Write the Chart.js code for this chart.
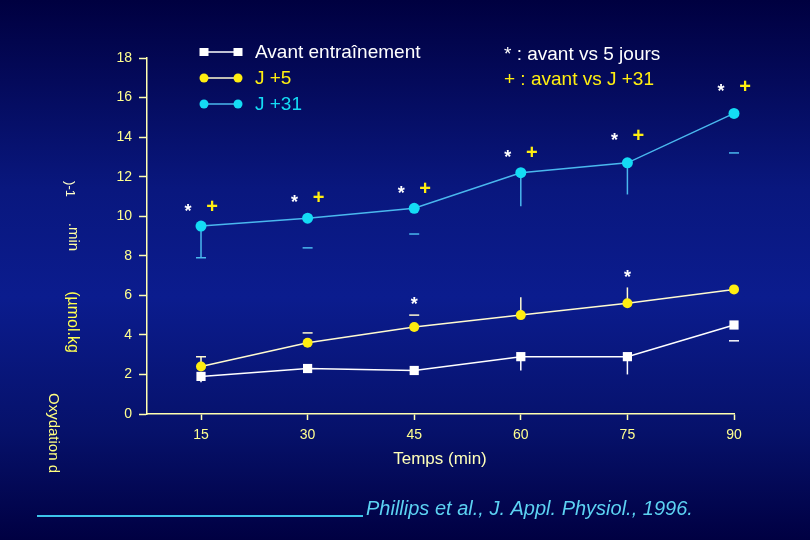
<!DOCTYPE html>
<html>
<head>
<meta charset="utf-8">
<script src="https://cdn.jsdelivr.net/npm/chart.js"></script>
<style>
  html, body { margin: 0; padding: 0; background: #000040; }
</style>
</head>
<body>
<canvas id="chart" width="810" height="540"></canvas>

<script type="text/javascript">
    // values
    const minutes = [15, 30, 45, 60, 75, 90];
    const avant = [1.9, 2.3, 2.2, 2.9, 2.9, 4.5];
    const j5 = [2.4, 3.6, 4.4, 5.0, 5.6, 6.3];
    const j31 = [9.5, 9.9, 10.4, 12.2, 12.7, 15.2];

    // end of each error bar (null = not shown)
    const avantErr = [1.6, null, null, 2.2, 2.0, 3.7];
    const j5Err = [2.9, 4.1, 5.0, 5.9, 6.4, null];
    const j31Err = [7.9, 8.4, 9.1, 10.5, 11.1, 13.2];
    // T = stem and cap, I = stem only, - = cap only
    const avantErrKind = ['I', '', '', 'I', 'I', '-'];
    const j5ErrKind = ['T', '-', '-', 'I', 'I', ''];
    const j31ErrKind = ['T', '-', '-', 'I', 'I', '-'];

    // height of the "* +" marks over J +31, and of the "*" marks over J +5
    const sigJ31 = [10.5, 10.95, 11.45, 13.25, 14.1, 16.6];
    const sigJ5 = [null, null, 5.8, null, 7.2, null];

    const yTicks = [0, 2, 4, 6, 8, 10, 12, 14, 16, 18];

    const AXIS = '#ffffb0';
    const TICKTXT = '#ffff90';
    const WHITE = '#ffffff';
    const YELLOW = '#ffee10';
    const YLINE = '#fffbd0';
    const CYAN = '#14dcf4';
    const CLINE = '#4ab8ee';
    const FONT = '"Liberation Sans", Arial, sans-serif';

    const ctx = document.getElementById("chart").getContext("2d");

    function pts(values) {
      return minutes.map((m, i) => ({ x: m, y: values[i] }));
    }

    const background = {
      id: 'background',
      beforeDraw(chart) {
        const c = chart.ctx;
        const g = c.createLinearGradient(0, 0, 0, chart.height);
        g.addColorStop(0, '#000040');
        g.addColorStop(0.35, '#09177e');
        g.addColorStop(0.55, '#0b1c8e');
        g.addColorStop(0.8, '#06116a');
        g.addColorStop(1, '#000042');
        c.save();
        c.fillStyle = g;
        c.fillRect(0, 0, chart.width, chart.height);
        c.restore();
      }
    };

    const errorBars = {
      id: 'errorBars',
      beforeDatasetsDraw(chart) {
        const c = chart.ctx;
        const xs = chart.scales.x, ys = chart.scales.y;
        const sets = [
          [avant, avantErr, avantErrKind, WHITE],
          [j5, j5Err, j5ErrKind, YLINE],
          [j31, j31Err, j31ErrKind, CLINE],
        ];
        c.save();
        c.lineWidth = 1.5;
        sets.forEach(([vals, ends, kinds, color]) => {
          c.strokeStyle = color;
          vals.forEach((v, i) => {
            if (ends[i] == null) return;
            const px = xs.getPixelForValue(minutes[i]);
            const p0 = ys.getPixelForValue(v);
            const p1 = ys.getPixelForValue(ends[i]);
            c.beginPath();
            if (kinds[i] == 'T' || kinds[i] == 'I') {
              c.moveTo(px, p0);
              c.lineTo(px, p1);
            }
            if (kinds[i] == 'T' || kinds[i] == '-') {
              c.moveTo(px - 5, p1);
              c.lineTo(px + 5, p1);
            }
            c.stroke();
          });
        });
        c.restore();
      }
    };

    function star(c, x, y) {
      c.font = 'bold 18px ' + FONT;
      c.fillStyle = WHITE;
      c.textAlign = 'center';
      c.textBaseline = 'alphabetic';
      c.fillText('*', x, y + 11);
    }

    function plus(c, x, y) {
      c.font = 'bold 20px ' + FONT;
      c.fillStyle = YELLOW;
      c.textAlign = 'center';
      c.textBaseline = 'alphabetic';
      c.fillText('+', x, y + 7);
    }

    function vtext(c, str, x, y, size, color) {
      c.save();
      c.translate(x, y);
      c.rotate(Math.PI / 2);
      c.font = size + 'px ' + FONT;
      c.fillStyle = color;
      c.textAlign = 'center';
      c.textBaseline = 'middle';
      c.fillText(str, 0, 0);
      c.restore();
    }

    function legendRow(c, y, color, line, square, label, textColor) {
      c.strokeStyle = line;
      c.lineWidth = 1.5;
      c.beginPath();
      c.moveTo(204, y);
      c.lineTo(238, y);
      c.stroke();
      c.fillStyle = color;
      [204, 238].forEach((x) => {
        c.beginPath();
        if (square) c.rect(x - 4.5, y - 4, 9, 8);
        else c.arc(x, y, 4.5, 0, Math.PI * 2);
        c.fill();
      });
      c.font = '19px ' + FONT;
      c.fillStyle = textColor;
      c.textAlign = 'left';
      c.textBaseline = 'middle';
      c.fillText(label, 255, y + 1);
    }

    const texts = {
      id: 'texts',
      afterDraw(chart) {
        const c = chart.ctx;
        const xs = chart.scales.x, ys = chart.scales.y;
        c.save();

        // significance marks
        sigJ31.forEach((v, i) => {
          const px = xs.getPixelForValue(minutes[i]);
          const py = ys.getPixelForValue(v);
          star(c, px - 13, py);
          plus(c, px + 11, py);
        });
        sigJ5.forEach((v, i) => {
          if (v == null) return;
          star(c, xs.getPixelForValue(minutes[i]), ys.getPixelForValue(v));
        });

        // legends
        legendRow(c, 52, WHITE, WHITE, true, 'Avant entraînement', WHITE);
        legendRow(c, 78, YELLOW, YLINE, false, 'J +5', YELLOW);
        legendRow(c, 104, CYAN, CLINE, false, 'J +31', CYAN);

        c.font = '19px ' + FONT;
        c.textAlign = 'left';
        c.textBaseline = 'middle';
        c.fillStyle = WHITE;
        c.fillText('* : avant vs 5 jours', 504, 55);
        c.fillStyle = YELLOW;
        c.fillText('+ : avant vs J +31', 504, 80);

        // axis titles
        c.font = '17px ' + FONT;
        c.fillStyle = '#ffffb8';
        c.textAlign = 'center';
        c.fillText('Temps (min)', 440, 459);

        vtext(c, ')-1', 70, 189, 13, '#ffffc8');
        vtext(c, '.min', 73, 237, 15, '#ffffa0');
        vtext(c, '(µmol.kg', 72, 322, 16, '#ffff50');
        vtext(c, 'Oxydation d', 53, 433, 15, '#ffff80');

        // reference
        c.strokeStyle = '#3cc4ea';
        c.lineWidth = 2;
        c.beginPath();
        c.moveTo(37, 516);
        c.lineTo(363, 516);
        c.stroke();
        c.font = 'italic 20px ' + FONT;
        c.fillStyle = '#5cd2f2';
        c.textAlign = 'left';
        c.fillText('Phillips et al., J. Appl. Physiol., 1996.', 366, 509);

        c.restore();
      }
    };

    const chart = new Chart(ctx, {
      type: 'line',
      data: {
        datasets: [
          { label: 'Avant entraînement', data: pts(avant), borderColor: WHITE, backgroundColor: WHITE, clip: false,
            borderWidth: 1.5, pointStyle: 'rect', pointRadius: 6.5, pointBorderWidth: 0 },
          { label: 'J +5', data: pts(j5), borderColor: YLINE, backgroundColor: YELLOW, clip: false,
            borderWidth: 1.5, pointStyle: 'circle', pointRadius: 5, pointBorderWidth: 0 },
          { label: 'J +31', data: pts(j31), borderColor: CLINE, backgroundColor: CYAN, clip: false,
            borderWidth: 1.5, pointStyle: 'circle', pointRadius: 5.5, pointBorderWidth: 0 },
        ],
      },
      options: {
        responsive: false,
        animation: false,
        devicePixelRatio: 1,
        layout: { padding: { top: 58, right: 76, left: 0, bottom: 0 } },
        plugins: { legend: { display: false }, tooltip: { enabled: false } },
        scales: {
          x: {
            type: 'linear',
            min: 7.4,
            max: 90,
            afterBuildTicks: (scale) => { scale.ticks = minutes.map((v) => ({ value: v })); },
            afterFit: (scale) => { scale.height = 126; },
            grid: { drawOnChartArea: false, tickLength: 6, tickColor: AXIS, tickWidth: 1.5 },
            border: { color: AXIS, width: 1.5 },
            ticks: { color: TICKTXT, font: { family: FONT, size: 14 }, padding: 7, maxRotation: 0 },
          },
          y: {
            min: 0,
            max: 18,
            afterBuildTicks: (scale) => { scale.ticks = yTicks.map((v) => ({ value: v })); },
            afterFit: (scale) => { scale.width = 147; },
            grid: { drawOnChartArea: false, tickLength: 8, tickColor: AXIS, tickWidth: 1.5 },
            border: { color: AXIS, width: 1.5 },
            ticks: { color: TICKTXT, font: { family: FONT, size: 14 }, padding: 7 },
          },
        },
      },
      plugins: [background, errorBars, texts],
    });
</script>
</body>
</html>
